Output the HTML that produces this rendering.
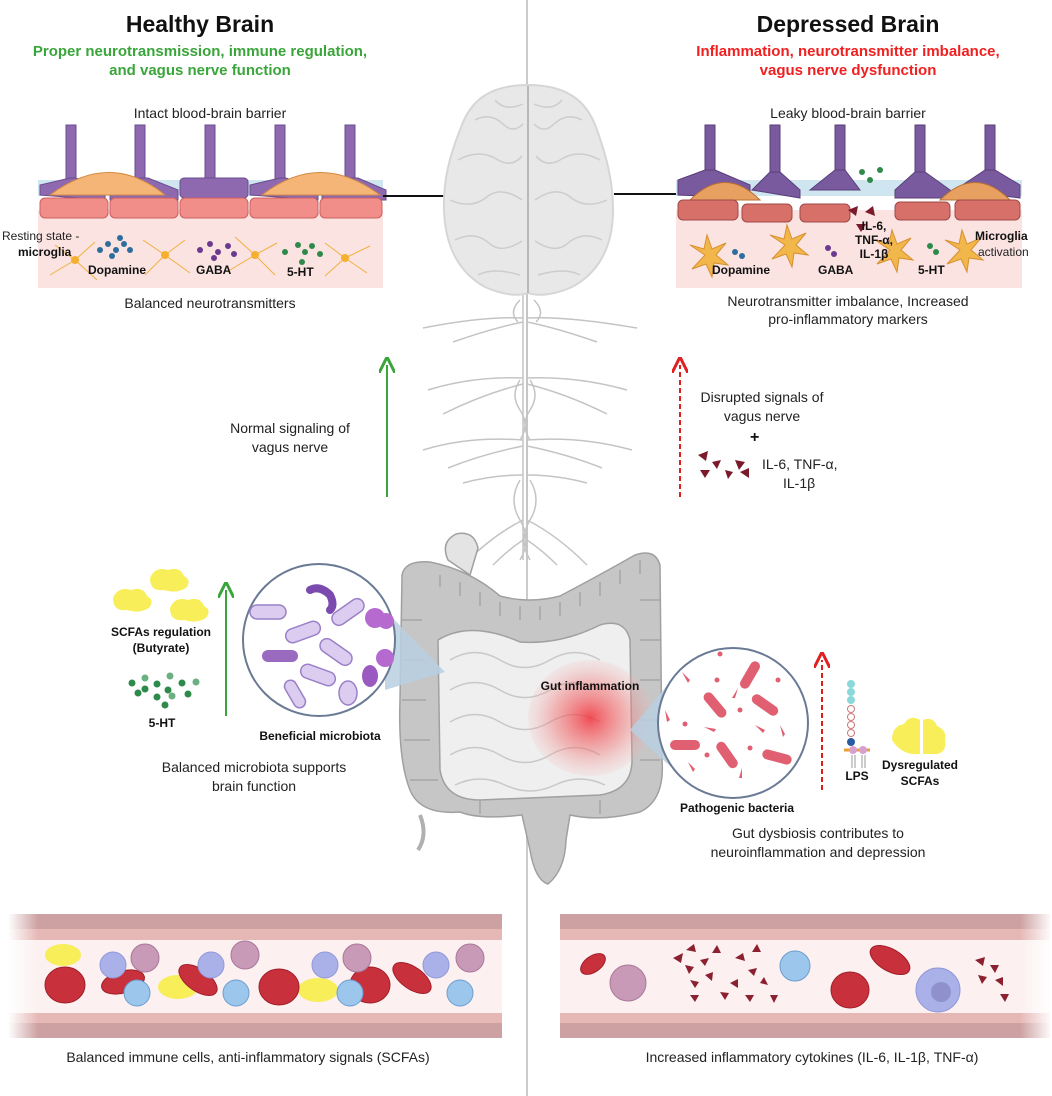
<!DOCTYPE html>
<html><head><meta charset="utf-8"><style>
html,body{margin:0;padding:0;background:#fff}
svg{display:block}
text{font-family:"Liberation Sans",sans-serif}
</style></head><body>
<svg width="1052" height="1096" viewBox="0 0 1052 1096" xmlns="http://www.w3.org/2000/svg">
<defs>
<radialGradient id="inf" cx="50%" cy="50%" r="50%"><stop offset="0" stop-color="#f0303a" stop-opacity=".85"/><stop offset=".6" stop-color="#f07070" stop-opacity=".45"/><stop offset="1" stop-color="#f8b0b0" stop-opacity=".15"/></radialGradient>
<linearGradient id="fadeL" x1="0" x2="1"><stop offset="0" stop-color="#fff" stop-opacity="1"/><stop offset="1" stop-color="#fff" stop-opacity="0"/></linearGradient>
<linearGradient id="fadeR" x1="0" x2="1"><stop offset="0" stop-color="#fff" stop-opacity="0"/><stop offset="1" stop-color="#fff" stop-opacity="1"/></linearGradient>
<marker id="ag" markerWidth="8" markerHeight="8" refX="4" refY="4" orient="auto"><path d="M0,0 L8,4 L0,8" fill="none" stroke="#3aa53a" stroke-width="1.5"/></marker>
<marker id="ar" markerWidth="8" markerHeight="8" refX="4" refY="4" orient="auto"><path d="M0,0 L8,4 L0,8" fill="none" stroke="#e02020" stroke-width="1.5"/></marker>
</defs>
<line x1="527" y1="0" x2="527" y2="1096" stroke="#ccc" stroke-width="2"/>
<!-- titles -->
<text x="200" y="32" font-size="23" font-weight="bold" text-anchor="middle" fill="#111">Healthy Brain</text>
<text x="200" y="56" font-size="15" font-weight="bold" text-anchor="middle" fill="#3aa53a">Proper neurotransmission, immune regulation,</text>
<text x="200" y="75" font-size="15" font-weight="bold" text-anchor="middle" fill="#3aa53a">and vagus nerve function</text>
<text x="848" y="32" font-size="23" font-weight="bold" text-anchor="middle" fill="#111">Depressed Brain</text>
<text x="848" y="56" font-size="15" font-weight="bold" text-anchor="middle" fill="#f02020">Inflammation, neurotransmitter imbalance,</text>
<text x="848" y="75" font-size="15" font-weight="bold" text-anchor="middle" fill="#f02020">vagus nerve dysfunction</text>
<text x="210" y="118" font-size="14" text-anchor="middle" fill="#222">Intact blood-brain barrier</text>
<text x="848" y="118" font-size="14" text-anchor="middle" fill="#222">Leaky blood-brain barrier</text>

<!-- left BBB -->
<rect x="38" y="210" width="345" height="78" fill="#fbe3e1"/>
<rect x="38" y="180" width="345" height="16" fill="#cfe6f0"/>
<g fill="#8e69b0" stroke="#6a4c8c" stroke-width="1">
<rect x="66" y="125" width="10" height="60"/><rect x="135" y="125" width="10" height="60"/><rect x="205" y="125" width="10" height="60"/><rect x="275" y="125" width="10" height="60"/><rect x="345" y="125" width="10" height="60"/>
<path d="M40,195 L40,185 L70,178 L76,178 L105,190 L105,200 Z"/>
<path d="M110,190 L140,178 L148,178 L178,190 L178,200 L110,200Z"/>
<rect x="180" y="178" width="68" height="20" rx="4"/>
<path d="M250,195 L250,185 L280,178 L286,178 L318,190 L318,200Z"/>
<path d="M322,190 L350,178 L358,178 L386,190 L386,200 L322,200Z"/>
</g>
<path d="M50,195 Q110,150 165,195Z" fill="#f5b577" stroke="#d48a40"/>
<path d="M262,195 Q320,150 380,195Z" fill="#f5b577" stroke="#d48a40"/>
<g fill="#f28e8a" stroke="#c96060">
<rect x="40" y="198" width="68" height="20" rx="5"/><rect x="110" y="198" width="68" height="20" rx="5"/><rect x="180" y="198" width="68" height="20" rx="5"/><rect x="250" y="198" width="68" height="20" rx="5"/><rect x="320" y="198" width="62" height="20" rx="5"/>
</g>
<g stroke="#f2b040" stroke-width="1" fill="none">
<path d="M75,260 l-20,-15 M75,260 l20,-18 M75,260 l-25,15 M75,260 l22,20 M165,255 l-22,-15 M165,255 l20,-15 M165,255 l-20,20 M165,255 l25,18 M255,255 l-20,-18 M255,255 l22,-12 M255,255 l-25,15 M255,255 l20,20 M345,258 l-20,-15 M345,258 l25,-12 M345,258 l-20,18 M345,258 l22,15"/>
</g>
<g fill="#f5b030"><circle cx="75" cy="260" r="4"/><circle cx="165" cy="255" r="4"/><circle cx="255" cy="255" r="4"/><circle cx="345" cy="258" r="4"/></g>
<g fill="#2e6e9e"><circle cx="100" cy="250" r="3"/><circle cx="108" cy="244" r="3"/><circle cx="116" cy="250" r="3"/><circle cx="124" cy="244" r="3"/><circle cx="112" cy="256" r="3"/><circle cx="130" cy="250" r="3"/><circle cx="120" cy="238" r="3"/></g>
<g fill="#6a3a8e"><circle cx="200" cy="250" r="3"/><circle cx="210" cy="244" r="3"/><circle cx="218" cy="252" r="3"/><circle cx="228" cy="246" r="3"/><circle cx="214" cy="258" r="3"/><circle cx="234" cy="254" r="3"/></g>
<g fill="#2e8a4a"><circle cx="285" cy="252" r="3"/><circle cx="298" cy="245" r="3"/><circle cx="305" cy="252" r="3"/><circle cx="312" cy="246" r="3"/><circle cx="302" cy="262" r="3"/><circle cx="320" cy="254" r="3"/></g>
<text x="2" y="240" font-size="12" fill="#222">Resting state -</text>
<text x="18" y="256" font-size="12" font-weight="bold" fill="#111">microglia</text>
<text x="88" y="274" font-size="12" font-weight="bold" fill="#111">Dopamine</text>
<text x="196" y="274" font-size="12" font-weight="bold" fill="#111">GABA</text>
<text x="287" y="276" font-size="12" font-weight="bold" fill="#111">5-HT</text>
<text x="210" y="308" font-size="14" text-anchor="middle" fill="#222">Balanced neurotransmitters</text>
<line x1="383" y1="196" x2="446" y2="196" stroke="#111" stroke-width="2"/>

<!-- right BBB -->
<rect x="676" y="210" width="346" height="78" fill="#fbe3e1"/>
<rect x="676" y="180" width="346" height="16" fill="#cfe6f0"/>
<g fill="#7a5a9e" stroke="#5a3e7a">
<rect x="705" y="125" width="10" height="55"/><rect x="770" y="125" width="10" height="55"/><rect x="835" y="125" width="10" height="55"/><rect x="915" y="125" width="10" height="55"/><rect x="985" y="125" width="10" height="55"/>
<path d="M678,195 L678,180 L705,170 L715,170 L750,185 L750,198Z"/>
<path d="M752,190 L770,172 L780,172 L800,190 L800,198Z"/>
<path d="M810,190 L835,170 L845,170 L860,190Z"/>
<path d="M895,190 L915,172 L925,172 L950,190 L950,198 L895,198Z"/>
<path d="M955,190 L985,170 L995,170 L1020,185 L1020,198Z"/>
</g>
<path d="M690,200 Q725,165 760,200Z" fill="#e8a060" stroke="#b87030"/>
<path d="M940,200 Q975,165 1010,200Z" fill="#e8a060" stroke="#b87030"/>
<g fill="#d8706a" stroke="#a04848">
<rect x="678" y="200" width="60" height="20" rx="5"/><rect x="742" y="204" width="50" height="18" rx="5"/><rect x="800" y="204" width="50" height="18" rx="5"/><rect x="895" y="202" width="55" height="18" rx="5"/><rect x="955" y="200" width="65" height="20" rx="5"/>
</g>
<g fill="#f2b74a" stroke="#d89030">
<path d="M705,255 l-15,-10 l14,4 l3,-14 l5,14 l14,-6 l-10,12 l12,10 l-14,-2 l-2,14 l-6,-13 l-14,5Z"/>
<path d="M785,245 l-15,-10 l14,4 l3,-14 l5,14 l14,-6 l-10,12 l12,10 l-14,-2 l-2,14 l-6,-13 l-14,5Z"/>
<path d="M890,250 l-15,-10 l14,4 l3,-14 l5,14 l14,-6 l-10,12 l12,10 l-14,-2 l-2,14 l-6,-13 l-14,5Z"/>
<path d="M960,250 l-15,-10 l14,4 l3,-14 l5,14 l14,-6 l-10,12 l12,10 l-14,-2 l-2,14 l-6,-13 l-14,5Z"/>
</g>
<g fill="#2e6e9e"><circle cx="735" cy="252" r="3"/><circle cx="742" cy="256" r="3"/></g>
<g fill="#6a3a8e"><circle cx="828" cy="248" r="3"/><circle cx="834" cy="254" r="3"/></g>
<g fill="#2e8a4a"><circle cx="930" cy="246" r="3"/><circle cx="936" cy="252" r="3"/><circle cx="862" cy="172" r="3"/><circle cx="870" cy="180" r="3"/><circle cx="880" cy="170" r="3"/></g>
<g fill="#7a1a2a"><path d="M848,210 l10,-4 l-2,10Z"/><path d="M865,212 l8,-6 l2,10Z"/><path d="M856,224 l10,0 l-5,8Z"/></g>
<text x="874" y="230" font-size="12" font-weight="bold" fill="#111" text-anchor="middle">IL-6,</text>
<text x="874" y="244" font-size="12" font-weight="bold" fill="#111" text-anchor="middle">TNF-α,</text>
<text x="874" y="258" font-size="12" font-weight="bold" fill="#111" text-anchor="middle">IL-1β</text>
<text x="712" y="274" font-size="12" font-weight="bold" fill="#111">Dopamine</text>
<text x="818" y="274" font-size="12" font-weight="bold" fill="#111">GABA</text>
<text x="918" y="274" font-size="12" font-weight="bold" fill="#111">5-HT</text>
<text x="975" y="240" font-size="12" font-weight="bold" fill="#111">Microglia</text>
<text x="978" y="256" font-size="12" fill="#222">activation</text>
<text x="848" y="306" font-size="14" text-anchor="middle" fill="#222">Neurotransmitter imbalance, Increased</text>
<text x="848" y="324" font-size="14" text-anchor="middle" fill="#222">pro-inflammatory markers</text>
<line x1="614" y1="194" x2="676" y2="194" stroke="#111" stroke-width="2"/>

<!-- vagus nerves -->
<g fill="none" stroke="#c4c4c4" stroke-width="1.5">
<path d="M527,290 L527,560"/><path d="M523,290 L523,560"/>
<path d="M520,300 q-12,12 -2,22 M534,300 q12,12 2,22"/>
<path d="M523,318 q-40,-2 -100,10 M527,318 q40,-2 110,10"/>
<path d="M523,322 q-30,6 -70,20 M527,322 q30,6 70,20"/>
<path d="M523,378 q-50,-2 -95,12 M527,378 q50,-2 100,12"/>
<path d="M523,384 q-40,10 -80,30 M527,384 q40,10 80,30"/>
<path d="M523,440 q-55,-4 -100,10 M527,440 q55,-4 105,10"/>
<path d="M523,446 q-40,8 -75,22 M527,446 q40,8 75,22"/>
<path d="M523,475 q-30,0 -60,8 M527,475 q30,0 60,8"/>
<path d="M520,380 q-10,15 0,30 q10,15 0,30 M530,380 q10,15 0,30 q-10,15 0,30"/>
<path d="M520,480 q-12,20 0,40 q12,20 0,40 M530,480 q12,20 0,40 q-12,20 0,40"/>
<path d="M523,520 q-30,15 -60,45 M527,520 q30,15 60,45 M523,540 q-15,10 -30,25 M527,540 q15,10 30,25"/>
</g>
<!-- brain -->
<path d="M528,85 C490,85 470,100 460,130 C450,155 443,180 444,210 C445,245 458,272 485,287 C505,296 520,296 528,293 C536,296 552,296 572,287 C600,272 613,245 613,210 C613,180 606,155 597,130 C587,100 566,85 528,85Z" fill="#e8e8e8" stroke="#d6d6d6" stroke-width="2"/>
<g fill="none" stroke="#cdcdcd" stroke-width="1.5">
<path d="M475,120 q15,-8 28,4 q10,10 20,0"/><path d="M458,160 q22,-12 40,0 q14,8 24,-4"/><path d="M450,200 q22,10 38,-4 q14,-10 34,4"/><path d="M455,240 q20,-10 35,4 q12,10 32,-3"/><path d="M478,275 q15,-8 42,0"/><path d="M495,100 q10,12 28,4"/>
<path d="M582,120 q-15,-8 -28,4 q-10,10 -20,0"/><path d="M600,160 q-22,-12 -40,0 q-14,8 -24,-4"/><path d="M607,200 q-22,10 -38,-4 q-14,-10 -34,4"/><path d="M602,240 q-20,-10 -35,4 q-12,10 -32,-3"/><path d="M580,275 q-15,-8 -42,0"/><path d="M562,100 q-10,12 -28,4"/>
</g>
<line x1="528" y1="86" x2="528" y2="293" stroke="#b8b8b8" stroke-width="2"/>
<!-- arrows -->
<line x1="387" y1="497" x2="387" y2="365" stroke="#3aa53a" stroke-width="2" marker-end="url(#ag)"/>
<line x1="226" y1="716" x2="226" y2="590" stroke="#3aa53a" stroke-width="2" marker-end="url(#ag)"/>
<line x1="680" y1="497" x2="680" y2="365" stroke="#e02020" stroke-width="2" stroke-dasharray="5,3" marker-end="url(#ar)"/>
<line x1="822" y1="790" x2="822" y2="660" stroke="#e02020" stroke-width="2" stroke-dasharray="5,3" marker-end="url(#ar)"/>
<text x="290" y="433" font-size="14" text-anchor="middle" fill="#222">Normal signaling of</text>
<text x="290" y="452" font-size="14" text-anchor="middle" fill="#222">vagus nerve</text>
<text x="762" y="402" font-size="14" text-anchor="middle" fill="#222">Disrupted signals of</text>
<text x="762" y="421" font-size="14" text-anchor="middle" fill="#222">vagus nerve</text>
<text x="750" y="442" font-size="16" font-weight="bold" fill="#111">+</text>
<g fill="#7a1a2a"><path d="M698,455 l10,-4 l-2,10Z"/><path d="M712,462 l9,-2 l-4,9Z"/><path d="M700,470 l10,0 l-5,8Z"/><path d="M735,460 l10,2 l-6,8Z"/><path d="M740,472 l9,-4 l0,10Z"/><path d="M725,470 l8,2 l-5,7Z"/></g>
<text x="762" y="469" font-size="14" fill="#222">IL-6, TNF-α,</text>
<text x="783" y="488" font-size="14" fill="#222">IL-1β</text>

<!-- gut -->
<g stroke="#a0a0a0" stroke-width="1.5">
<path d="M448,560 q-8,-18 8,-26 q18,-4 22,14 L470,575Z" fill="#e4e4e4"/>
<path d="M402,575 Q405,560 430,562 Q470,570 500,596 Q530,604 560,596 Q600,575 635,555 Q655,548 660,565 L662,760 Q665,800 640,812 Q600,822 570,815 L566,840 Q565,870 548,884 Q535,880 530,850 L522,815 Q480,820 460,812 Q420,815 410,790 Q398,760 400,700 Z" fill="#c6c6c6"/>
<path d="M438,640 Q470,620 520,642 Q560,645 600,625 Q625,618 630,640 L632,760 Q632,790 600,795 L480,800 Q445,800 440,770 Z" fill="#efefef"/>
<path d="M420,815 q8,20 -2,35" fill="none" stroke="#b0b0b0" stroke-width="4"/>
</g>
<g fill="none" stroke="#c8c8c8" stroke-width="1.5">
<path d="M450,660 q25,-15 50,0 q25,15 50,0 q25,-15 50,0"/><path d="M450,690 q25,-15 50,0 q25,15 50,0 q25,-15 50,0"/><path d="M450,722 q25,-15 50,0 q25,15 50,0 q25,-15 50,0"/><path d="M450,755 q25,-15 50,0 q25,15 50,0 q25,-15 50,0"/><path d="M455,785 q25,-12 50,0 q25,12 50,0 q25,-12 50,0"/>
</g>
<g fill="none" stroke="#a6a6a6" stroke-width="1.5">
<path d="M440,575 v12 M460,582 v14 M480,592 v14 M500,602 v14 M520,606 v14 M540,606 v14 M560,602 v14 M580,592 v14 M600,582 v14 M620,570 v14 M640,560 v14"/>
<path d="M402,620 h20 M402,660 h22 M402,700 h24 M404,740 h26 M410,780 h28 M640,600 h20 M640,640 h20 M640,680 h20 M640,720 h20 M640,760 h20 M600,800 v14 M480,800 v14"/>
</g>
<ellipse cx="590" cy="718" rx="62" ry="58" fill="url(#inf)"/>
<text x="590" y="690" font-size="12" font-weight="bold" text-anchor="middle" fill="#111">Gut inflammation</text>

<!-- left microbiota circle -->
<path d="M385,610 L445,672 L385,690Z" fill="#b8cfe0" opacity=".85"/>
<circle cx="319" cy="640" r="76" fill="#fff" stroke="#6a7a95" stroke-width="2"/>
<g fill="#dccdf0" stroke="#9a80c8" stroke-width="1.5">
<rect x="250" y="605" width="36" height="14" rx="7"/>
<rect x="330" y="605" width="36" height="14" rx="7" transform="rotate(-35 348 612)"/>
<rect x="285" y="625" width="36" height="14" rx="7" transform="rotate(-20 303 632)"/>
<rect x="318" y="645" width="36" height="14" rx="7" transform="rotate(35 336 652)"/>
<rect x="300" y="668" width="36" height="14" rx="7" transform="rotate(20 318 675)"/>
<rect x="280" y="688" width="30" height="12" rx="6" transform="rotate(60 295 694)"/>
<ellipse cx="348" cy="693" rx="9" ry="12"/>
</g>
<rect x="262" y="650" width="36" height="12" rx="6" fill="#9a6ac0"/>
<path d="M310,590 q10,-5 20,5 q5,10 0,15" fill="none" stroke="#7a4aae" stroke-width="8" stroke-linecap="round"/>
<circle cx="375" cy="618" r="10" fill="#b66ad0"/><circle cx="386" cy="621" r="8" fill="#b66ad0"/>
<circle cx="385" cy="658" r="9" fill="#b66ad0"/>
<ellipse cx="370" cy="676" rx="8" ry="11" fill="#9a5ac0"/>
<text x="320" y="740" font-size="12" font-weight="bold" text-anchor="middle" fill="#111">Beneficial microbiota</text>
<g fill="#f8ee5a"><path d="M113,598 q5,-12 18,-8 q12,-4 16,6 q8,4 2,12 q-10,6 -22,2 q-14,2 -14,-12Z"/><path d="M150,578 q5,-12 18,-8 q12,-4 16,6 q8,4 2,12 q-10,6 -22,2 q-14,2 -14,-12Z"/><path d="M170,608 q5,-12 18,-8 q12,-4 16,6 q8,4 2,12 q-10,6 -22,2 q-14,2 -14,-12Z"/></g>
<text x="161" y="636" font-size="12" font-weight="bold" text-anchor="middle" fill="#111">SCFAs regulation</text>
<text x="161" y="652" font-size="12" font-weight="bold" text-anchor="middle" fill="#111">(Butyrate)</text>
<g fill="#2e8a4a"><circle cx="132" cy="683" r="3.5"/><circle cx="145" cy="689" r="3.5"/><circle cx="157" cy="684" r="3.5"/><circle cx="168" cy="690" r="3.5"/><circle cx="157" cy="697" r="3.5"/><circle cx="182" cy="683" r="3.5"/><circle cx="188" cy="694" r="3.5"/><circle cx="165" cy="705" r="3.5"/><circle cx="138" cy="693" r="3.5"/></g>
<g fill="#6ab080"><circle cx="145" cy="678" r="3.5"/><circle cx="170" cy="676" r="3.5"/><circle cx="196" cy="682" r="3.5"/><circle cx="172" cy="696" r="3.5"/></g>
<text x="162" y="727" font-size="12" font-weight="bold" text-anchor="middle" fill="#111">5-HT</text>
<text x="254" y="772" font-size="14" text-anchor="middle" fill="#222">Balanced microbiota supports</text>
<text x="254" y="791" font-size="14" text-anchor="middle" fill="#222">brain function</text>

<!-- right pathogenic circle -->
<path d="M630,730 L680,670 L680,775Z" fill="#b8cfe0" opacity=".85"/>
<circle cx="733" cy="723" r="75" fill="#fff" stroke="#6a7a95" stroke-width="2"/>
<g fill="#e06072">
<rect x="735" y="670" width="30" height="10" rx="5" transform="rotate(-60 750 675)"/>
<rect x="700" y="700" width="30" height="10" rx="5" transform="rotate(50 715 705)"/>
<rect x="750" y="700" width="30" height="10" rx="5" transform="rotate(35 765 705)"/>
<rect x="670" y="740" width="30" height="10" rx="5"/>
<rect x="712" y="750" width="30" height="10" rx="5" transform="rotate(55 727 755)"/>
<rect x="762" y="752" width="30" height="10" rx="5" transform="rotate(15 777 757)"/>
<circle cx="720" cy="654" r="2.5"/><circle cx="717" cy="680" r="2.5"/><circle cx="740" cy="710" r="2.5"/><circle cx="685" cy="724" r="2.5"/><circle cx="707" cy="755" r="2.5"/><circle cx="750" cy="748" r="2.5"/><circle cx="778" cy="680" r="2.5"/>
<path d="M682,672 l8,8 l-2,3Z"/><path d="M738,688 l-6,10 l3,0Z"/><path d="M665,710 l2,12 l3,-2Z"/><path d="M704,727 l12,2 l-2,3Z"/><path d="M755,725 l8,8 l2,-3Z"/><path d="M780,725 l3,12 l2,-3Z"/><path d="M688,762 l5,10 l2,-3Z"/><path d="M742,768 l-3,10 l3,0Z"/>
</g>
<text x="737" y="812" font-size="12" font-weight="bold" text-anchor="middle" fill="#111">Pathogenic bacteria</text>
<g fill="#8ad8d8"><circle cx="851" cy="684" r="4"/><circle cx="851" cy="692" r="4"/><circle cx="851" cy="700" r="4"/></g>
<g fill="#fff" stroke="#c87a7a"><circle cx="851" cy="709" r="3.5"/><circle cx="851" cy="717" r="3.5"/><circle cx="851" cy="725" r="3.5"/><circle cx="851" cy="733" r="3.5"/></g>
<circle cx="851" cy="742" r="4" fill="#2a5aa0"/>
<line x1="844" y1="750" x2="870" y2="750" stroke="#e8a030" stroke-width="3"/>
<circle cx="853" cy="750" r="4" fill="#d8a0d0"/><circle cx="863" cy="750" r="4" fill="#d8a0d0"/>
<g stroke="#999"><line x1="852" y1="755" x2="852" y2="768"/><line x1="855" y1="755" x2="855" y2="768"/><line x1="862" y1="755" x2="862" y2="768"/><line x1="865" y1="755" x2="865" y2="768"/></g>
<text x="857" y="780" font-size="12" font-weight="bold" text-anchor="middle" fill="#111">LPS</text>
<g fill="#f8ee5a"><path d="M892,740 q0,-14 12,-16 q6,-10 16,-4 l0,34 q-18,2 -28,-14Z"/><path d="M923,720 q10,-4 14,6 q10,4 8,14 q2,12 -8,14 l-14,0Z"/></g>
<text x="920" y="769" font-size="12" font-weight="bold" text-anchor="middle" fill="#111">Dysregulated</text>
<text x="920" y="785" font-size="12" font-weight="bold" text-anchor="middle" fill="#111">SCFAs</text>
<text x="818" y="838" font-size="14" text-anchor="middle" fill="#222">Gut dysbiosis contributes to</text>
<text x="818" y="857" font-size="14" text-anchor="middle" fill="#222">neuroinflammation and depression</text>

<!-- vessels -->
<g>
<rect x="8" y="914" width="494" height="15" fill="#cda1a1"/>
<rect x="8" y="929" width="494" height="11" fill="#e5b8b6"/>
<rect x="8" y="940" width="494" height="73" fill="#fcf0f0"/>
<rect x="8" y="1013" width="494" height="10" fill="#e5b8b6"/>
<rect x="8" y="1023" width="494" height="15" fill="#cda1a1"/>
<rect x="560" y="914" width="490" height="15" fill="#cda1a1"/>
<rect x="560" y="929" width="490" height="11" fill="#e5b8b6"/>
<rect x="560" y="940" width="490" height="73" fill="#fcf0f0"/>
<rect x="560" y="1013" width="490" height="10" fill="#e5b8b6"/>
<rect x="560" y="1023" width="490" height="15" fill="#cda1a1"/>
</g>
<g fill="#f8ee5a"><ellipse cx="63" cy="955" rx="18" ry="11"/><ellipse cx="178" cy="987" rx="20" ry="12"/><ellipse cx="318" cy="990" rx="20" ry="12"/></g>
<g fill="#c8303c" stroke="#a01e28">
<ellipse cx="65" cy="985" rx="20" ry="18"/><ellipse cx="123" cy="982" rx="22" ry="11" transform="rotate(-15 123 982)"/><ellipse cx="198" cy="980" rx="22" ry="11" transform="rotate(35 198 980)"/><ellipse cx="279" cy="987" rx="20" ry="18"/><ellipse cx="370" cy="985" rx="20" ry="18"/><ellipse cx="412" cy="978" rx="22" ry="11" transform="rotate(35 412 978)"/>
</g>
<g fill="#aab0e8" stroke="#9098d8"><circle cx="113" cy="965" r="13"/><circle cx="211" cy="965" r="13"/><circle cx="325" cy="965" r="13"/><circle cx="436" cy="965" r="13"/></g>
<g fill="#c89ab8" stroke="#a87898"><circle cx="145" cy="958" r="14"/><circle cx="245" cy="955" r="14"/><circle cx="357" cy="958" r="14"/><circle cx="470" cy="958" r="14"/></g>
<g fill="#9cc6ec" stroke="#6a9ed0"><circle cx="137" cy="993" r="13"/><circle cx="236" cy="993" r="13"/><circle cx="350" cy="993" r="13"/><circle cx="460" cy="993" r="13"/></g>
<g fill="#c8303c" stroke="#a01e28"><ellipse cx="593" cy="964" rx="14" ry="8" transform="rotate(-35 593 964)"/><ellipse cx="850" cy="990" rx="19" ry="18"/><ellipse cx="890" cy="960" rx="22" ry="11" transform="rotate(30 890 960)"/></g>
<circle cx="628" cy="983" r="18" fill="#c89ab8" stroke="#a87898"/>
<circle cx="795" cy="966" r="15" fill="#9cc6ec" stroke="#6a9ed0"/>
<circle cx="938" cy="990" r="22" fill="#aab0e8" stroke="#9098d8"/><circle cx="941" cy="992" r="10" fill="#8f90cc"/>
<g fill="#8a2030">
<path d="M673,958 l10,-5 l-2,10Z"/><path d="M686,950 l8,-6 l2,8Z"/><path d="M685,965 l9,2 l-5,7Z"/><path d="M700,960 l9,-2 l-4,8Z"/><path d="M712,953 l9,0 l-4,-8Z"/><path d="M705,975 l8,-3 l-1,9Z"/><path d="M690,980 l9,2 l-4,6Z"/><path d="M735,958 l8,-5 l2,8Z"/><path d="M752,952 l9,0 l-4,-8Z"/><path d="M748,970 l9,-2 l-3,8Z"/><path d="M730,983 l8,-4 l0,9Z"/><path d="M760,983 l8,2 l-4,-8Z"/><path d="M720,992 l9,1 l-4,7Z"/><path d="M690,995 l9,0 l-4,7Z"/><path d="M745,995 l9,0 l-4,7Z"/><path d="M770,995 l8,0 l-4,8Z"/>
<path d="M975,960 l10,-3 l-2,9Z"/><path d="M990,965 l9,0 l-4,8Z"/><path d="M978,975 l9,2 l-5,7Z"/><path d="M995,980 l8,-3 l0,9Z"/><path d="M1000,994 l9,0 l-4,8Z"/>
</g>
<rect x="8" y="914" width="30" height="124" fill="url(#fadeL)"/>
<rect x="1020" y="914" width="32" height="124" fill="url(#fadeR)"/>
<text x="248" y="1062" font-size="14" text-anchor="middle" fill="#222">Balanced immune cells, anti-inflammatory signals (SCFAs)</text>
<text x="812" y="1062" font-size="14" text-anchor="middle" fill="#222">Increased inflammatory cytokines (IL-6, IL-1β, TNF-α)</text>
</svg>
</body></html>
